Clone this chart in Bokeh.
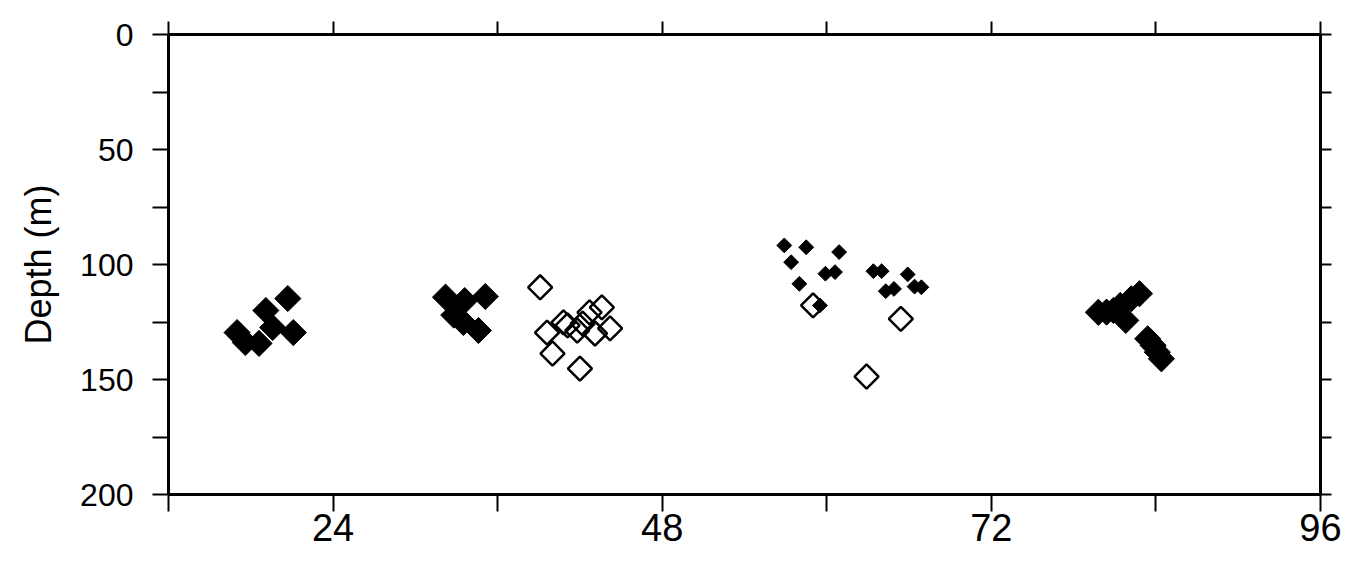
import numpy as np
from bokeh.plotting import figure
from bokeh.models import Range1d, LinearAxis, FixedTicker
from bokeh.embed import file_html
from bokeh.resources import INLINE

# Large filled diamonds
big_x = [17.0, 17.6, 18.6, 19.1, 20.7, 21.1, 19.6,
         32.2, 35.1, 33.6, 34.6, 33.5, 32.8,
         79.8, 80.4, 80.9, 81.4, 81.8, 82.2, 82.8, 83.4, 83.8, 84.1, 84.4]
big_y = [129.6, 133.9, 134.3, 120.0, 114.8, 129.6, 127.4,
         114.2, 113.9, 115.7, 128.7, 125.2, 122.0,
         120.8, 120.7, 120.0, 117.8, 124.3, 114.9, 112.7, 132.3, 135.2, 138.1, 141.0]

# Open diamonds
open_x = [39.1, 42.0, 40.0, 39.6, 40.8, 41.1, 41.8, 42.7, 43.6, 43.1, 44.2, 42.2,
          59.0, 65.4, 62.9]
open_y = [109.9, 145.3, 138.7, 129.6, 125.2, 126.5, 128.7, 120.8, 118.6, 130.0, 127.8, 125.7,
          117.8, 123.6, 148.7]

# Small filled diamonds
small_x = [56.9, 58.5, 57.4, 60.9, 58.0, 59.9, 60.6, 59.5, 63.4, 64.0, 65.9, 64.3, 64.9, 66.4, 66.9]
small_y = [91.7, 92.5, 99.0, 94.6, 108.4, 104.0, 103.3, 117.8, 102.9, 102.9, 104.3, 111.6, 110.6, 109.6, 109.9]

x_major = [24, 48, 72, 96]
x_minor = [12, 36, 60, 84]
y_major = [0, 50, 100, 150, 200]
y_minor = [25, 75, 125, 175]

FONT = "Liberation Sans"

p = figure(width=1348, height=562, output_backend="svg", toolbar_location=None,
           x_range=Range1d(12, 96), y_range=Range1d(200, 0),
           min_border_left=168, min_border_right=28, min_border_top=34, min_border_bottom=68,
           x_axis_location=None, y_axis_location=None)
p.outline_line_color = None
p.xgrid.visible = False
p.ygrid.visible = False
p.background_fill_color = "white"
p.border_fill_color = "white"


def style(ax, tick_out, labels=True, fsize="30px"):
    ax.axis_line_width = 3
    ax.axis_line_color = "black"
    ax.major_tick_line_width = 2
    ax.minor_tick_line_width = 2
    ax.major_tick_line_color = "black"
    ax.minor_tick_line_color = "black"
    ax.major_tick_out = tick_out
    ax.major_tick_in = 0
    ax.minor_tick_out = tick_out
    ax.minor_tick_in = 0
    ax.major_label_text_font = FONT
    ax.major_label_text_font_size = fsize
    ax.major_label_text_color = "black"
    if not labels:
        ax.major_label_text_font_size = "0px"
        ax.major_label_text_color = None


left = LinearAxis(ticker=FixedTicker(ticks=y_major, minor_ticks=y_minor),
                  axis_label="Depth (m)")
style(left, 16, True, "32px")
left.major_label_standoff = 19
left.axis_label_text_font = FONT
left.axis_label_text_font_size = "36px"
left.axis_label_text_font_style = "normal"
left.axis_label_text_color = "black"
left.axis_label_standoff = 18
p.add_layout(left, "left")

right = LinearAxis(ticker=FixedTicker(ticks=y_major, minor_ticks=y_minor))
style(right, 11, False)
p.add_layout(right, "right")

bottom = LinearAxis(ticker=FixedTicker(ticks=x_major, minor_ticks=x_minor))
style(bottom, 17, True, "38px")
bottom.major_label_standoff = 2
p.add_layout(bottom, "below")

top = LinearAxis(ticker=FixedTicker(ticks=x_major, minor_ticks=x_minor))
style(top, 13, False)
p.add_layout(top, "above")

p.scatter(big_x, big_y, marker="square", size=18.5, angle=np.pi / 4,
          fill_color="black", line_color="black", line_width=1)
p.scatter(small_x, small_y, marker="square", size=10.5, angle=np.pi / 4,
          fill_color="black", line_color="black", line_width=1)
p.scatter(open_x, open_y, marker="square", size=17, angle=np.pi / 4,
          fill_color=None, line_color="black", line_width=2.5)

open("out.html", "w").write(file_html(p, INLINE))
